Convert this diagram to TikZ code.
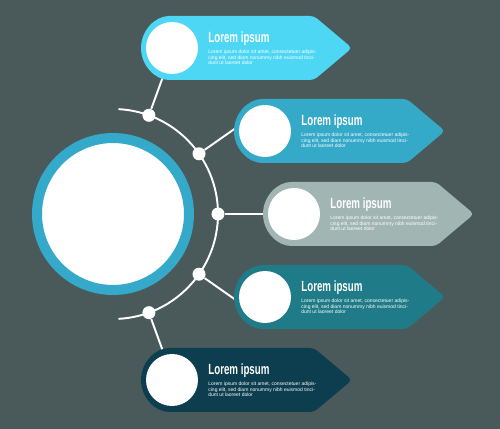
\documentclass[tikz,border=0pt]{standalone}
\usepackage{fontspec}
\setmainfont{Liberation Sans}
\newfontfamily\titlefont{Liberation Sans}[FakeStretch=0.66]
\usetikzlibrary{calc,positioning}
\definecolor{bgcol}{HTML}{4A5A5B}
\definecolor{ringcol}{HTML}{34A9CA}
\definecolor{tabA}{HTML}{4ED7F4}
\definecolor{tabB}{HTML}{35A9C8}
\definecolor{tabC}{HTML}{A1B6B3}
\definecolor{tabD}{HTML}{1E7B87}
\definecolor{tabE}{HTML}{0C3E4F}
\tikzset{
    spoke/.style={
    draw=white,line width=1.1pt
    },
    joint/.style={
    circle,fill=white,inner sep=0pt,minimum size=0.26cm
    },
    hole/.style={
    circle,fill=white,inner sep=0pt,minimum size=1.04cm
    },
    head/.style={
    anchor=base west,inner sep=0pt,text=white,font=\titlefont\bfseries\fontsize{8.4}{9}\selectfont
    },
    blurb/.style={
    anchor=north west,inner sep=0pt,text=white,align=left,font=\fontsize{2.85}{3.2}\selectfont
    },
}
\begin{document}
\begin{tikzpicture}[x=0.02cm, y=0.02cm]
   \fill[bgcol] (0,0) rectangle (500,429);
   \node[circle,fill=white,draw=ringcol,line width=0.2cm,minimum size=3.04cm,inner sep=0pt] (hub) at (113,215) {};

   % arc and spokes
   \draw[spoke] ($(hub)+(87:105)$) arc (87:-87:105);
   \foreach \i/\a in {1/70,2/35,3/0,4/-35,5/-70}{
     \node[joint] (j\i) at ($(hub)+(\a:105)$) {};
     \coordinate (e\i) at ($(hub)+(\a:170)$);
     \draw[spoke] (j\i) -- (e\i);
   }

   % tabs
   \foreach \i/\l/\c/\col in {1/141/381/tabA,2/234/298/tabB,3/263/215/tabC,4/234/132/tabD,5/141/49/tabE}{
     \fill[\col,rounded corners=0.08cm] (\l+32,\c-32) arc (270:90:32) -- (\l+173,\c+32) -- (\l+211,\c) -- (\l+173,\c-32) -- cycle;
     \node[hole] (h\i) at (\l+31,\c) {};
     \node[head] (t\i) at (\l+67,\c+5) {Lorem ipsum};
     \node[blurb] (s\i) at (\l+67,\c-1.5) {Lorem ipsum dolor sit amet, consectetuer adipis-\\cing elit, sed diam nonummy nibh euismod tinci-\\dunt ut laoreet dolor};
   }
\end{tikzpicture}
\end{document}
